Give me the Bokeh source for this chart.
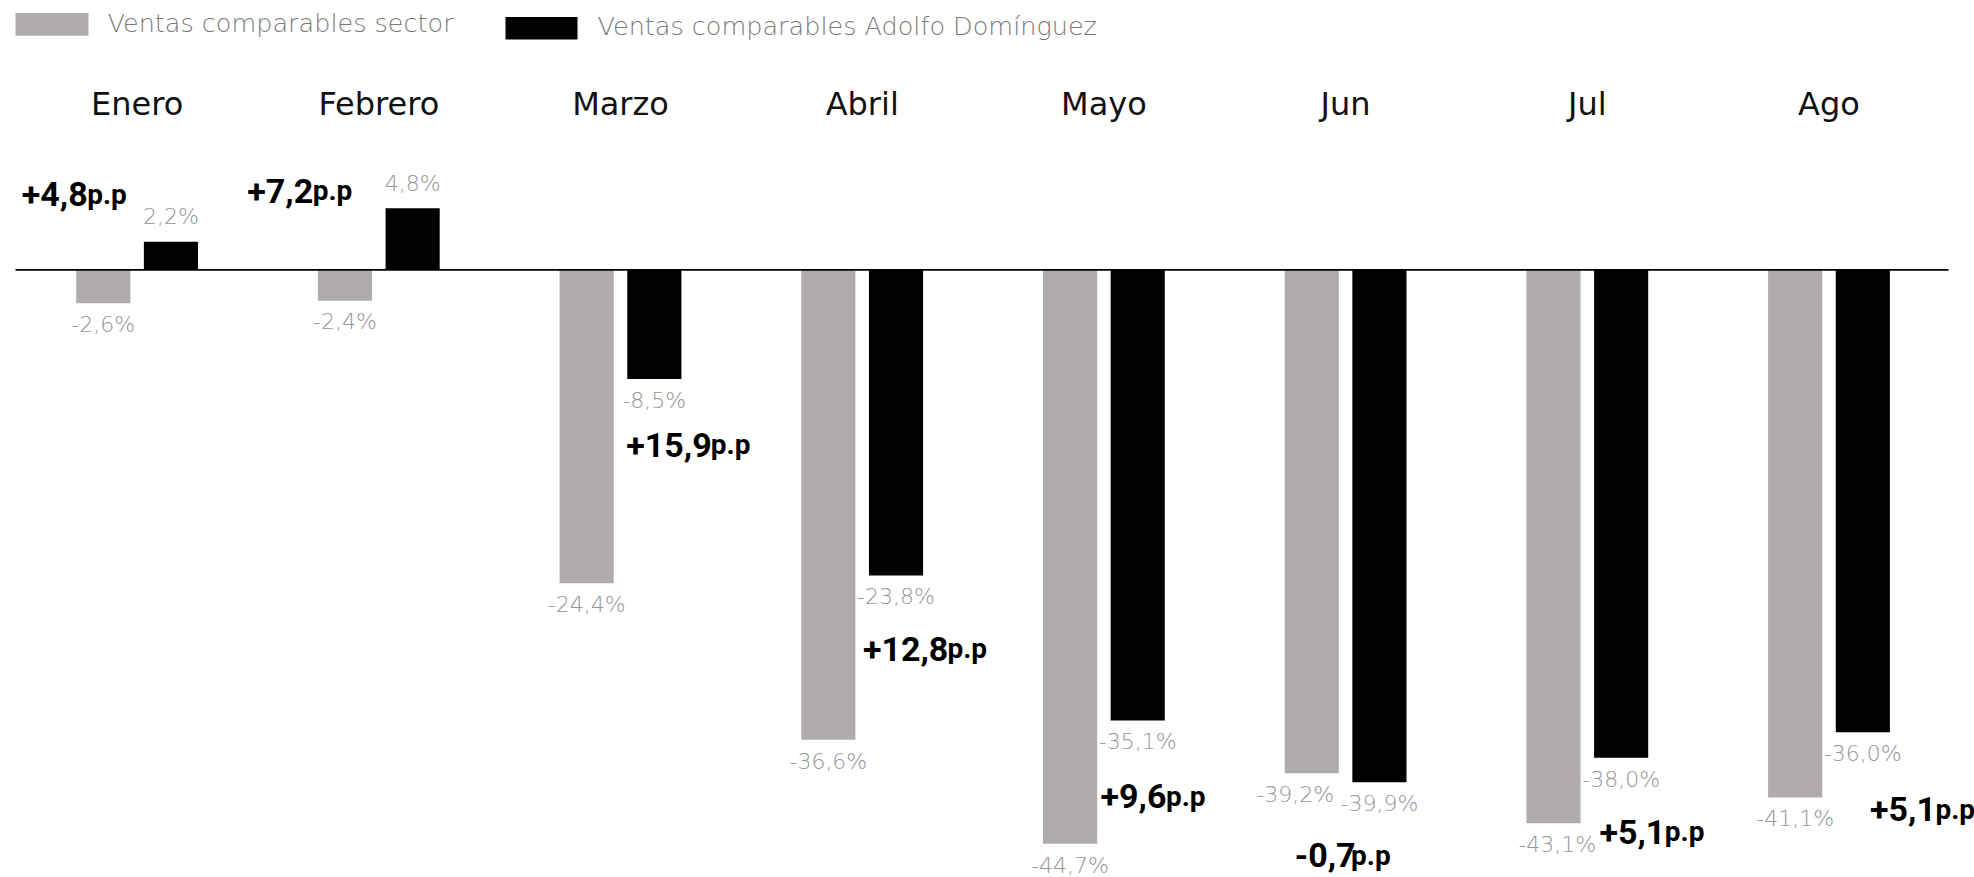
from bokeh.plotting import figure
from bokeh.models import Range1d
from bokeh.core.properties import value
from bokeh.embed import file_html
from bokeh.resources import INLINE

# ---------------- data ----------------
months = ["Enero", "Febrero", "Marzo", "Abril", "Mayo", "Jun", "Jul", "Ago"]
sector = [-2.6, -2.4, -24.4, -36.6, -44.7, -39.2, -43.1, -41.1]
adolfo = [2.2, 4.8, -8.5, -23.8, -35.1, -39.9, -38.0, -36.0]
diff_labels = ["+4,8", "+7,2", "+15,9", "+12,8", "+9,6", "-0,7", "+5,1", "+5,1"]
legend_labels = ["Ventas comparables sector", "Ventas comparables Adolfo Domínguez"]

# annotation nudges (category units / % units)
pp_dx = [-0.477, -0.544, 0.024, 0.003, -0.014, -0.21, 0.05, 0.17]
pp_dy = [5.9, 6.15, -5.1, -5.7, -5.9, -5.7, -5.75, -6.0]
sector_lbl_dx = [0, 0, 0, 0, 0, -0.068, 0.016, 0]

GREY = "#b0acab"
LBL = "#959595"

# ---------------- layout ----------------
W, H = 1974, 877
PX_X, X0 = 241.7, 136.6      # px per category, px of first category centre
PX_Y, Y0 = 12.84, 269.4      # px per %, px of zero line


def dx(px):
    return (px - X0) / PX_X


def dy(py):
    return (Y0 - py) / PX_Y


p = figure(width=W, height=H,
           x_range=Range1d(dx(0), dx(W)), y_range=Range1d(dy(H), dy(0)),
           output_backend="svg", toolbar_location=None,
           x_axis_type=None, y_axis_type=None, min_border=0,
           outline_line_color=None)
p.background_fill_color = "white"

n = len(months)
xs = list(range(n))
OFF, BW = 0.14, 0.224

p.vbar(x=[i - OFF for i in xs], top=sector, bottom=0, width=BW,
       fill_color=GREY, line_color=None)
p.vbar(x=[i + OFF for i in xs], top=adolfo, bottom=0, width=BW,
       fill_color="black", line_color=None)

# zero line
p.segment(x0=[dx(15)], y0=[0], x1=[dx(1948)], y1=[0], line_color="black", line_width=1.6)

LIGHT = value("DejaVu Sans Light, DejaVu Sans ExtraLight, Roboto Light, Roboto")
NEG_OFF, POS_OFF = 1.65, 1.95


def fmt(v):
    return ("%.1f" % v).replace(".", ",") + "%"


# value labels
p.text(x=[i - OFF + d for i, d in zip(xs, sector_lbl_dx)],
       y=[v - NEG_OFF if v < 0 else v + POS_OFF for v in sector],
       text=[fmt(v) for v in sector], text_align="center", text_baseline="middle",
       text_font=LIGHT, text_font_size="22px", text_color=LBL)
p.text(x=[i + OFF for i in xs],
       y=[v - NEG_OFF if v < 0 else v + POS_OFF for v in adolfo],
       text=[fmt(v) for v in adolfo], text_align="center", text_baseline="middle",
       text_font=LIGHT, text_font_size="22px", text_color=LBL)

# month labels
p.text(x=xs, y=[dy(103.5)] * n, text=months, text_align="center", text_baseline="middle",
       text_font=value("DejaVu Sans"), text_font_size="32px", text_color="#111111")

# p.p difference labels
BIG, SMALL = 34, 28
cw = {"+": 0.55, "-": 0.28, ",": 0.22}
pp_x = [i + d for i, d in zip(xs, pp_dx)]
pp_y = [min(a, 0) + d for a, d in zip(adolfo, pp_dy)]
for x, y, t in zip(pp_x, pp_y, diff_labels):
    w = sum(cw.get(ch, 0.562) for ch in t) * BIG
    p.text(x=[x], y=[y], text=[t], text_align="left", text_baseline="alphabetic",
           text_font=value("Roboto"), text_font_style="bold",
           text_font_size=f"{BIG}px", text_color="black")
    p.text(x=[x], y=[y], x_offset=w + 1, text=["p.p"], text_align="left",
           text_baseline="alphabetic", text_font=value("Roboto"),
           text_font_style="bold", text_font_size=f"{SMALL}px", text_color="black")

# legend
p.quad(left=[dx(15)], right=[dx(88)], top=[dy(12.6)], bottom=[dy(35.3)],
       fill_color=GREY, line_color=None)
p.quad(left=[dx(505)], right=[dx(577)], top=[dy(16.4)], bottom=[dy(39)],
       fill_color="black", line_color=None)
p.text(x=[dx(107), dx(597)], y=[dy(22), dy(25)], text=legend_labels,
       text_align="left", text_baseline="middle", text_font=LIGHT,
       text_font_size="25.5px", text_color="#7a7a7a")

open("out.html", "w").write(file_html(p, INLINE))
